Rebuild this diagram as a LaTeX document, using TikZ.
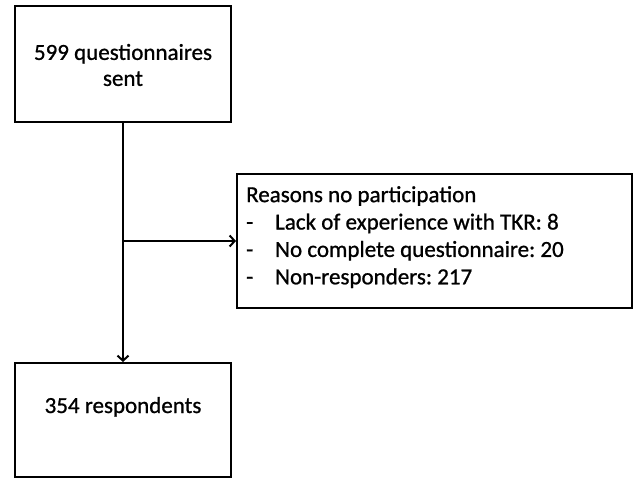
\documentclass[tikz,border=0pt]{standalone}
\usepackage{fontspec}
\setmainfont{Carlito}[FakeBold=0.9]
\frenchspacing
\usetikzlibrary{arrows.meta}
\begin{document}
\begin{tikzpicture}[x=1pt,y=-1pt,
  boxstyle/.style={draw=black, line width=2pt, fill=white, inner sep=0pt},
  txt/.style={font=\fontsize{23}{26}\selectfont, inner sep=0pt},
  conn/.style={line width=2pt, -{Straight Barb[length=5pt,width=11pt,line width=2pt]}}]
\useasboundingbox[fill=white] (0,0) rectangle (635,479);
\node[boxstyle, minimum width=216pt, minimum height=116pt] (top) at (123,64) {};
\node[txt, align=center] (toptxt) at (123,65) {599 questionnaires\\sent};
\node[boxstyle, minimum width=216pt, minimum height=114pt] (bot) at (123,420) {};
\node[txt, anchor=base] (bottxt) at (123,413) {354 respondents};
\node[boxstyle, minimum width=395pt, minimum height=134pt] (rsn) at (434.5,241) {};
\node[txt, align=left, anchor=north west, font=\fontsize{23}{27.4}\selectfont] (rsntxt) at (246,186) {Reasons no participation\\
\makebox[29pt][l]{-}Lack of experience with TKR: 8\\
\makebox[29pt][l]{-}No complete questionnaire: 20\\
\makebox[29pt][l]{-}Non-responders: 217};
\coordinate (branch) at (top.south |- rsn.west);
\draw[conn] (top.south) -- (bot.north);
\draw[conn] (branch) -- (rsn.west);
\end{tikzpicture}
\end{document}
